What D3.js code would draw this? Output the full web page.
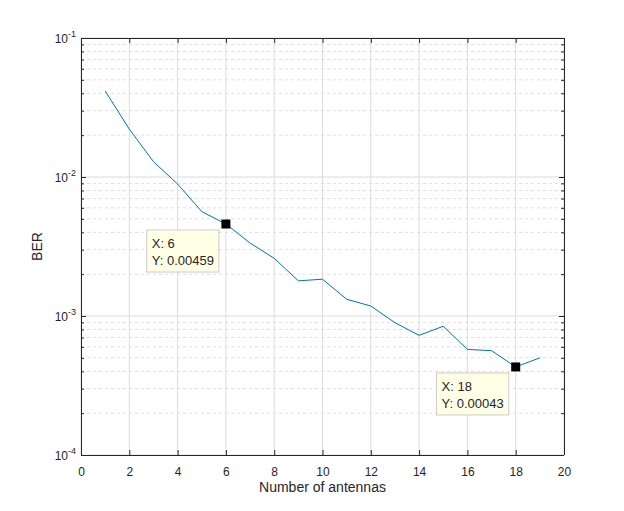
<!DOCTYPE html>
<html lang="en">
<head>
    <meta charset="UTF-8">
    <title>BER vs Number of antennas</title>
    <style>
        body { margin: 0; background: #fff; }
        text { font-family: "Liberation Sans", Arial, sans-serif; fill: #262626; }
    </style>
</head>
<body>
    <svg id="chart" width="624" height="511"></svg>
    <script src="https://d3js.org/d3.v7.min.js"></script>
    <script>
        // data
        var antennas = [1, 2, 3, 4, 5, 6, 7, 8, 9, 10, 11, 12, 13, 14, 15, 16, 17, 18, 19];
        var ber = [0.0416, 0.0221, 0.0129, 0.0089, 0.00564, 0.00459, 0.00335, 0.0026, 0.00179, 0.00184,
                   0.00132, 0.00118, 0.000895, 0.000726, 0.000844, 0.000575, 0.000563, 0.00043, 0.0005];
        var xTicks = [0, 2, 4, 6, 8, 10, 12, 14, 16, 18, 20];
        var yDecades = [-4, -3, -2, -1];
        var tipX = [6, 18];
        var tipY = [0.00459, 0.00043];
        var tipLabels = ["0.00459", "0.00043"];

        var margin = { top: 38, right: 60, bottom: 56, left: 81 },
            width = 624 - margin.left - margin.right,
            height = 511 - margin.top - margin.bottom;

        var svg = d3.select("#chart")
                    .append("g")
                    .attr("transform", "translate(" + margin.left + "," + margin.top + ")");

        var x = d3.scaleLinear().domain([0, 20]).range([0, width]);
        var y = d3.scaleLog().domain([1e-4, 1e-1]).range([height, 0]);

        var major = yDecades.map(function(p) { return Math.pow(10, p); });
        // minor values 2..9 in each decade
        var minor = [];
        yDecades.slice(0, 3).forEach(function(p) {
            for (var k = 2; k <= 9; k++) minor.push(k * Math.pow(10, p));
        });

        // grid
        svg.append("g").selectAll("line")
           .data(minor).enter().append("line")
           .attr("x1", 0).attr("x2", width)
           .attr("y1", function(d) { return y(d); })
           .attr("y2", function(d) { return y(d); })
           .attr("stroke", "#dedede").attr("stroke-dasharray", "3,3");

        svg.append("g").selectAll("line")
           .data(xTicks).enter().append("line")
           .attr("x1", function(d) { return x(d); })
           .attr("x2", function(d) { return x(d); })
           .attr("y1", 0).attr("y2", height)
           .attr("stroke", "#dcdcdc");

        svg.append("g").selectAll("line")
           .data(major).enter().append("line")
           .attr("x1", 0).attr("x2", width)
           .attr("y1", function(d) { return y(d); })
           .attr("y2", function(d) { return y(d); })
           .attr("stroke", "#dcdcdc");

        // data line
        var pts = antennas.map(function(a, i) { return [a, ber[i]]; });
        svg.append("path")
           .datum(pts)
           .attr("fill", "none")
           .attr("stroke", "#0072bd")
           .attr("stroke-width", 1)
           .attr("d", d3.line()
                .x(function(d) { return x(d[0]); })
                .y(function(d) { return y(d[1]); }));

        // axes (ticks pointing inward, box on)
        var axBottom = svg.append("g")
           .attr("transform", "translate(0," + height + ")")
           .call(d3.axisBottom(x).tickValues(xTicks).tickSize(-5).tickPadding(12).tickFormat(d3.format("d")));
        var axTop = svg.append("g")
           .call(d3.axisTop(x).tickValues(xTicks).tickSize(-5).tickFormat(""));
        var axLeft = svg.append("g")
           .call(d3.axisLeft(y).tickValues(minor).tickSize(-3).tickFormat(""));
        var axRight = svg.append("g")
           .attr("transform", "translate(" + width + ",0)")
           .call(d3.axisRight(y).tickValues(minor).tickSize(-3).tickFormat(""));
        var axLeftMajor = svg.append("g")
           .call(d3.axisLeft(y).tickValues(major).tickSize(-5).tickFormat(""));
        var axRightMajor = svg.append("g")
           .attr("transform", "translate(" + width + ",0)")
           .call(d3.axisRight(y).tickValues(major).tickSize(-5).tickFormat(""));

        [axBottom, axTop, axLeft, axRight, axLeftMajor, axRightMajor].forEach(function(g) {
            g.select(".domain").attr("stroke", "#262626")
             .attr("d", (g === axBottom || g === axTop) ? "M0,0.5H" + width : "M0.5,0V" + height);
            g.selectAll(".tick line").attr("stroke", "#262626");
        });
        axBottom.selectAll(".tick text")
              .style("font-family", "'Liberation Sans', Arial, sans-serif")
              .style("font-size", "12px").attr("fill", "#262626");

        // decade labels 10^p
        var yl = svg.append("g").selectAll("text")
           .data(yDecades).enter().append("text")
           .attr("x", -5)
           .attr("y", function(d) { return y(Math.pow(10, d)) + 5; })
           .attr("text-anchor", "end")
           .style("font-size", "12px");
        yl.append("tspan").text("10");
        yl.append("tspan").attr("dy", -6).style("font-size", "9px").text(function(d) { return "-" + Math.abs(d); });

        // Label for X Axis
        svg.append("text")
           .attr("x", width / 2)
           .attr("y", height + 37)
           .style("text-anchor", "middle")
           .style("font-size", "14px")
           .text("Number of antennas");

        // Label for Y Axis
        svg.append("text")
           .attr("transform", "rotate(-90)")
           .attr("x", -height / 2)
           .attr("y", -39)
           .style("text-anchor", "middle")
           .style("font-size", "14px")
           .text("BER");

        // data tips
        tipX.forEach(function(tx, i) {
            var px = x(tx), py = y(tipY[i]);
            var g = svg.append("g");
            var box = g.append("rect")
               .attr("fill", "#ffffe6")
               .attr("stroke", "#cccccc");
            var t1 = g.append("text").style("font-size", "13px").text("X: " + tx);
            var t2 = g.append("text").style("font-size", "13px").text("Y: " + tipLabels[i]);
            var w = Math.max(t1.node().getComputedTextLength(), t2.node().getComputedTextLength()) + 10;
            var bx = px - 7 - w, by = py + 6;
            box.attr("x", bx).attr("y", by).attr("width", w).attr("height", 42);
            t1.attr("x", bx + 5).attr("y", by + 18);
            t2.attr("x", bx + 5).attr("y", by + 35);
            g.append("rect")
             .attr("x", px - 4.5).attr("y", py - 4.5)
             .attr("width", 9).attr("height", 9)
             .attr("fill", "#000");
        });
    </script>
</body>
</html>
